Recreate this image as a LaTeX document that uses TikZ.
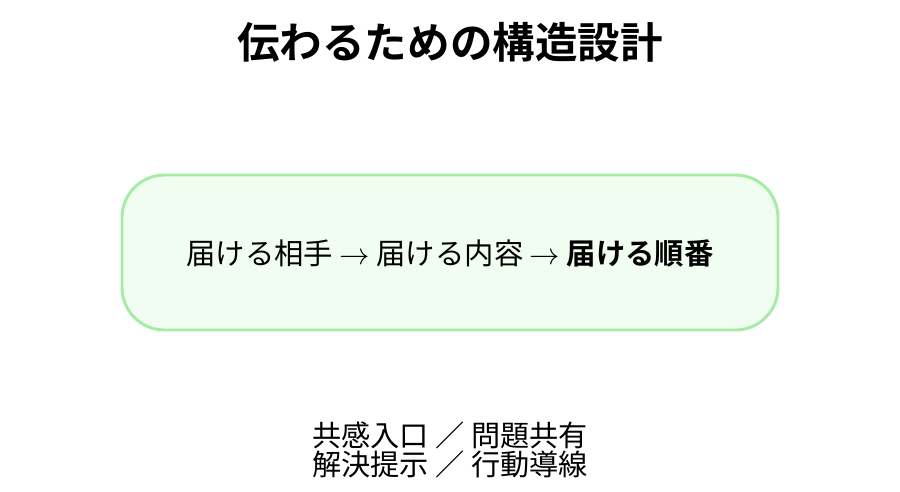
\documentclass[tikz,border=0pt]{standalone}
\usepackage{fontspec}
\setmainfont{Noto Sans CJK JP}[BoldFont={Noto Sans CJK JP Bold}]
\usepackage{tikz}

\definecolor{boxline}{HTML}{A6EBA6}
\definecolor{boxfill}{HTML}{F2FDF2}

\begin{document}
\begin{tikzpicture}
			\useasboundingbox (0,0) rectangle (18,9.84);
			\node (title) at (9,9.0) {\fontsize{24.2pt}{27pt}\selectfont\bfseries 伝わるための構造設計};

			\draw[boxline, fill=boxfill, line width=1.7pt, rounded corners=0.85cm] (2.44,3.24) rectangle (15.56,6.34);
			\node (flow) at (9,4.78) {\fontsize{16.7pt}{19pt}\selectfont 届ける相手 $\rightarrow$ 届ける内容 $\rightarrow$ \textbf{届ける順番}};

			\node[align=center, font=\fontsize{16.6pt}{14.8pt}\selectfont] (roles) at (9,0.84) {共感入口 ／ 問題共有\\解決提示 ／ 行動導線};
		\end{tikzpicture}
\end{document}
